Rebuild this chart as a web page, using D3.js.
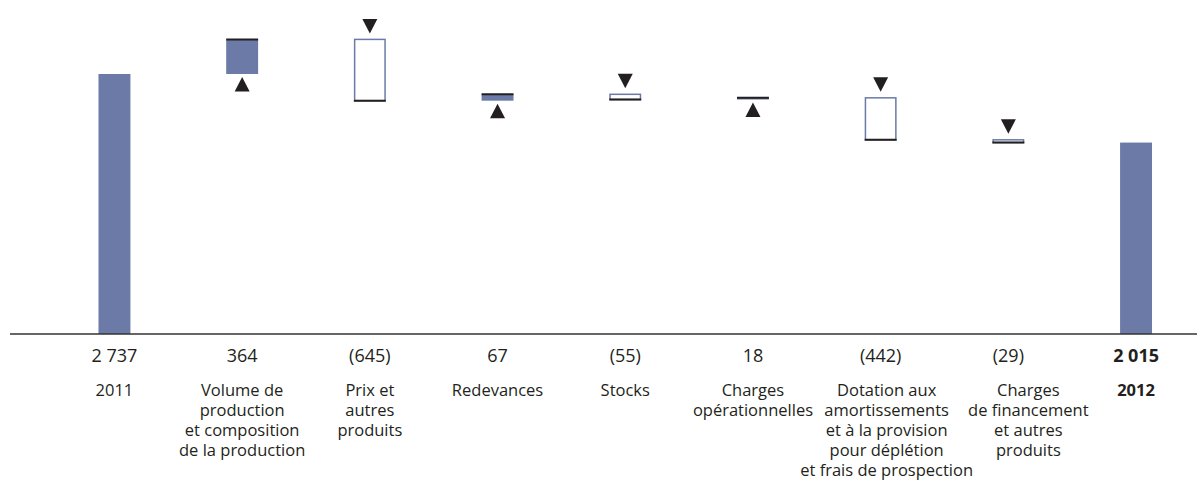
<!DOCTYPE html>
<html>
<head>
<meta charset="utf-8">
<script src="https://cdn.jsdelivr.net/npm/d3@7"></script>
<style>
  html, body { margin: 0; padding: 0; background: #fff; }
  svg { display: block; }
  text { font-family: "Open Sans", "Noto Sans", sans-serif; fill: #231f20; }
</style>
</head>
<body>
<svg id="chart" width="1197" height="488"></svg>
<script>
// Waterfall: 2011 → 2012 bridge
const categories = ["2011", "volume", "prix", "redevances", "stocks", "charges", "dotation", "financement", "2012"];
const categoryLines = [
  ["2011"],
  ["Volume de", "production", "et composition", "de la production"],
  ["Prix et", "autres", "produits"],
  ["Redevances"],
  ["Stocks"],
  ["Charges", "opérationnelles"],
  ["Dotation aux", "amortissements", "et à la provision", "pour déplétion", "et frais de prospection"],
  ["Charges", "de financement", "et autres", "produits"],
  ["2012"]
];
// horizontal nudge of a label block relative to its column centre (px)
const labelShift = [0, 0, 0, 0, 0, 0, 6, 20, 0];
const values = [2737, 364, -645, 67, -55, 18, -442, -29, 2015];
const valueLabels = ["2 737", "364", "(645)", "67", "(55)", "18", "(442)", "(29)", "2 015"];
const isTotal = [true, false, false, false, false, false, false, false, true];
const boldColumn = [false, false, false, false, false, false, false, false, true];

const BLUE = "#6b7aa6";
const DARK = "#231f20";

const svg = d3.select("#chart");

const x = d3.scaleBand()
  .domain(categories)
  .range([50.6, 1199.9])
  .paddingInner(0.75)
  .paddingOuter(0.375);

const y = d3.scaleLinear()
  .domain([0, 3500])
  .range([334, 1.5]);

// running totals for each step
let running = 0;
const steps = categories.map((c, i) => {
  let start, end;
  if (isTotal[i]) { start = 0; end = values[i]; running = values[i]; }
  else { start = running; end = running + values[i]; running = end; }
  return { key: c, i, start, end, total: isTotal[i], up: values[i] >= 0 };
});

const g = svg.append("g");
const bw = x.bandwidth();

// total columns
g.selectAll("rect.total")
  .data(steps.filter(d => d.total))
  .join("rect")
  .attr("class", "total")
  .attr("x", d => x(d.key))
  .attr("width", bw)
  .attr("y", d => y(d.end))
  .attr("height", d => y(0) - y(d.end))
  .attr("fill", BLUE);

const deltas = steps.filter(d => !d.total);

// increases: filled; decreases: outlined
g.selectAll("rect.delta")
  .data(deltas)
  .join("rect")
  .attr("class", "delta")
  .attr("x", d => x(d.key) + (d.up ? 0 : 0.75))
  .attr("width", d => d.up ? bw : bw - 1.5)
  .attr("y", d => y(Math.max(d.start, d.end)))
  .attr("height", d => Math.abs(y(d.start) - y(d.end)))
  .attr("fill", d => d.up ? BLUE : "#fff")
  .attr("stroke", d => d.up ? "none" : BLUE)
  .attr("stroke-width", 1.5);

// dark rule at the closing level of each step
g.selectAll("line.level")
  .data(deltas)
  .join("line")
  .attr("class", "level")
  .attr("x1", d => x(d.key))
  .attr("x2", d => x(d.key) + bw)
  .attr("y1", d => y(d.end))
  .attr("y2", d => y(d.end))
  .attr("stroke", DARK)
  .attr("stroke-width", 2);

// direction arrows
const tri = 15, triH = 14.5;
g.selectAll("path.arrow")
  .data(deltas)
  .join("path")
  .attr("class", "arrow")
  .attr("fill", DARK)
  .attr("d", d => {
    const cx = x(d.key) + bw / 2;
    if (d.up) {
      const apex = y(Math.min(d.start, d.end)) + 3;
      return `M${cx},${apex} L${cx + tri / 2},${apex + triH} L${cx - tri / 2},${apex + triH} Z`;
    } else {
      const apex = y(Math.max(d.start, d.end)) - 6;
      return `M${cx},${apex} L${cx + tri / 2},${apex - triH} L${cx - tri / 2},${apex - triH} Z`;
    }
  });

// baseline
svg.append("line")
  .attr("x1", 10).attr("x2", 1197)
  .attr("y1", y(0)).attr("y2", y(0))
  .attr("stroke", "#333").attr("stroke-width", 1.5);

// value row
svg.selectAll("text.value")
  .data(categories)
  .join("text")
  .attr("class", "value")
  .attr("x", d => x(d) + bw / 2)
  .attr("y", 362)
  .attr("text-anchor", "middle")
  .attr("font-size", 18)
  .attr("font-weight", (d, i) => boldColumn[i] ? 700 : 400)
  .text((d, i) => valueLabels[i]);

// category labels
const lab = svg.selectAll("text.cat")
  .data(categories)
  .join("text")
  .attr("class", "cat")
  .attr("x", (d, i) => x(d) + bw / 2 + labelShift[i])
  .attr("y", 396)
  .attr("text-anchor", "middle")
  .attr("font-size", 16.5)
  .attr("font-weight", (d, i) => boldColumn[i] ? 700 : 400);

lab.selectAll("tspan")
  .data((d, i) => categoryLines[i].map(t => ({ t, cx: x(d) + bw / 2 + labelShift[i] })))
  .join("tspan")
  .attr("x", d => d.cx)
  .attr("dy", (d, j) => j === 0 ? 0 : 20)
  .text(d => d.t);
</script>
</body>
</html>
